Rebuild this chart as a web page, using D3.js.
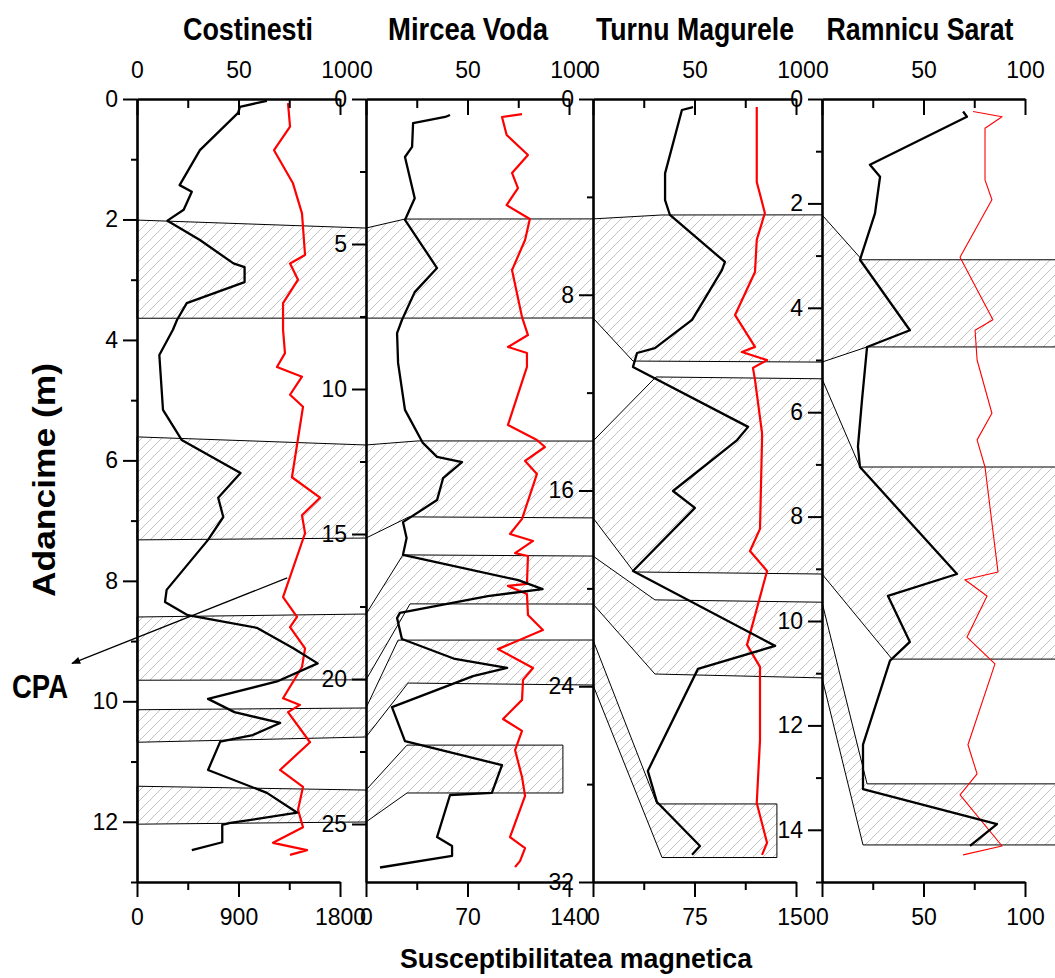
<!DOCTYPE html>
<html><head><meta charset="utf-8">
<script src="https://cdn.jsdelivr.net/npm/d3@7"></script>
<style>
body{margin:0;background:#fff}
svg{display:block}
text{font-family:"Liberation Sans",Arial,sans-serif}
</style>
</head><body>
<svg id="c" width="1055" height="978"></svg>
<script>
// ---------- data ----------
const panelNames = ["Costinesti", "Mircea Voda", "Turnu Magurele", "Ramnicu Sarat"];
const depthMax = [13, 27, 32, 15];
const depthMajor = [[0,2,4,6,8,10,12],[0,5,10,15,20,25],[0,8,16,24,32],[0,2,4,6,8,10,12,14]];
const depthMinorStep = [1, 2.5, 4, 1];
const topMajor = [0, 50, 100];
const topMinor = [25, 75];
const bottomMax = [1800, 140, 150, 100];
const bottomMajor = [[0,900,1800],[0,70,140],[0,75,150],[0,50,100]];
const bottomMinor = [[450,1350],[35,105],[37.5,112.5],[25,75]];
const xTitle = "Susceptibilitatea magnetica";
const yTitle = "Adancime (m)";
const cpaLabel = "CPA";

// black curves: [value on top axis, depth]
const costinestiBlack = [[64,0.03],[50.7,0.13],[49.8,0.23],[31,0.85],[21,1.43],[27,1.54],[23,1.84],[15,2.02],[31,2.34],[47.5,2.73],[53,2.79],[53,3.04],[24.5,3.39],[19.7,3.67],[17.7,3.83],[11,4.25],[12.8,5.16],[22,5.66],[51,6.21],[40,6.62],[42.5,6.94],[35,7.32],[14.6,8.15],[13.8,8.35],[25,8.57],[59,8.78],[77,9.12],[89,9.37],[69,9.67],[35,9.96],[48,10.18],[70.5,10.36],[57,10.56],[41,10.67],[35,11.14],[64,11.52],[79,11.85],[46,12.02],[42,12.05],[42,12.34],[27,12.47]];
const mirceaBlack = [[41.4,0.55],[39,0.62],[23.2,0.83],[22.7,1.65],[19.2,2.0],[24,3.42],[19.2,4.17],[35,5.83],[24,6.66],[17.7,7.62],[15.3,8.07],[15.8,9.1],[19.2,10.72],[28,11.86],[35,12.34],[47.3,12.52],[38,13.07],[35,13.83],[18.2,14.59],[20,15.14],[18.2,15.72],[75,16.59],[87,16.9],[60,17.14],[16.7,17.72],[15.3,17.9],[17.7,18.62],[43.8,19.31],[69.5,19.62],[52.7,19.9],[12.8,20.97],[19.2,22.14],[67,22.97],[62,23.93],[41.4,24.0],[35,25.45],[42.4,25.76],[42.4,26.1],[6.9,26.5]];
const turnuBlack = [[49.3,0.33],[43.8,0.45],[35.5,3.04],[35.5,4.13],[37.9,4.74],[65,6.66],[63.5,6.99],[48.8,9.03],[30.5,10.18],[21.7,10.38],[19.7,10.95],[76.4,13.4],[71,13.94],[39.4,16.02],[50.2,16.71],[19.7,19.29],[89.7,22.35],[51.7,23.29],[27,27.46],[31.5,28.73],[52.7,30.53],[48.8,30.89]];
const ramnicuBlack = [[69.5,0.24],[71.4,0.34],[23.6,1.26],[28.6,1.49],[26.1,2.19],[18.7,3.08],[43.3,4.43],[22.2,4.75],[19.7,5.77],[17.7,6.66],[18.7,7.05],[66.5,9.1],[32.5,9.52],[43.3,10.4],[33.5,10.76],[20.2,12.37],[20.2,13.22],[86.2,13.89],[72.9,14.31]];

// red curves: [value on bottom axis, depth]
const costinestiRed = [[1339,0.07],[1357,0.46],[1215,0.85],[1383,1.4],[1463,1.9],[1490,2.59],[1357,2.73],[1428,3.0],[1295,3.39],[1295,3.83],[1312,4.22],[1241,4.45],[1463,4.61],[1357,4.91],[1472,5.11],[1374,6.28],[1623,6.62],[1463,6.91],[1490,7.21],[1295,8.27],[1419,8.6],[1357,8.77],[1490,9.12],[1463,9.43],[1295,9.95],[1445,10.06],[1339,10.18],[1534,10.68],[1268,11.14],[1472,11.42],[1428,11.8],[1472,12.09],[1206,12.35],[1508,12.47],[1357,12.55]];
const mirceaRed = [[107.6,0.52],[93.8,0.62],[97,1.24],[111.7,1.93],[100.7,2.55],[104.8,3.07],[97,3.66],[113,4.14],[109.7,4.86],[100.7,5.9],[107.6,7.52],[111.7,8.14],[97.9,8.55],[111,8.76],[111,9.24],[97.9,11.24],[117.9,11.76],[123.4,12.0],[109.7,12.48],[117.9,12.93],[107.6,14.48],[99.3,15.0],[115.2,15.24],[102.8,15.66],[111.7,15.76],[111,16.72],[97.9,16.79],[111,17.07],[111.7,17.79],[122,18.31],[91,18.97],[115.2,19.62],[108.3,20.03],[107.6,20.72],[94.5,21.38],[107.6,21.79],[102.8,22.45],[107.6,23.38],[109.7,24.03],[99.3,25.45],[109.7,25.83],[106.2,26.28],[102.8,26.48]];
const turnuRed = [[121,0.33],[121,3.39],[127,4.66],[121,5.76],[119.7,7.07],[105,8.83],[119.7,10.13],[110,10.34],[128.6,10.67],[118.2,10.99],[119.7,11.48],[124.9,13.65],[124.9,13.94],[123.4,17.57],[116,18.47],[128.6,19.29],[113.8,22.31],[123.4,23.21],[123.4,26.2],[121,28.77],[128.6,30.4],[124.9,30.89]];
const ramnicuRed = [[74.4,0.24],[88.7,0.34],[80.3,0.56],[80.3,1.55],[83.7,1.93],[68,3.03],[84.2,4.23],[75.4,4.43],[76.4,5.0],[83.7,6.02],[76.4,6.53],[80.3,7.05],[86.7,9.06],[70.4,9.21],[81.3,9.52],[71.4,10.31],[85.2,10.82],[71.9,12.37],[76.4,12.93],[68,13.33],[88.7,14.31],[69.5,14.48]];

// correlation bands: vertices [panel, value on panel top axis, depth in that panel]
const band1 = [[0,0,2.01],[1,0,4.45],[1,19.2,4.14],[2,0,4.9],[2,34,4.74],[3,0,2.22],[3,19.7,3.08],[3,117,3.08],[3,117,4.75],[3,22.2,4.75],[3,0,5.04],[2,19.7,10.71],[2,0,8.95],[0,0,3.64]];
const band2 = [[0,0,5.61],[1,0,11.93],[1,25.6,11.79],[2,0,13.98],[2,31,11.36],[3,0,5.36],[3,18.7,7.05],[3,117,7.05],[3,117,10.73],[3,34.5,10.73],[3,0,9.1],[2,20.2,19.33],[2,0,17.12],[1,21.2,14.41],[1,0,15.14],[0,0,7.32]];
const band3 = [[0,0,8.6],[1,0,17.76],[1,18.2,15.72],[2,0,18.68],[2,30.5,20.47],[3,0,9.64],[3,22.2,13.12],[3,117,13.12],[3,117,14.29],[3,20.2,14.29],[3,0,11.09],[2,30.5,23.5],[2,0,20.64],[1,21.7,17.41],[1,0,20.03],[0,0,9.65]];
const band4 = [[0,0,10.14],[1,0,21.0],[1,15.8,18.66],[2,0,22.11],[2,31.5,28.81],[2,90.6,28.81],[2,90.6,31.0],[2,34,31.0],[2,0,23.95],[1,20.7,20.14],[1,0,22.0],[0,0,10.68]];
const band5 = [[0,0,11.41],[1,0,23.83],[1,20.2,22.28],[1,97,22.28],[1,97,23.93],[1,20.2,23.93],[1,0,24.93],[0,0,12.04]];

// CPA arrow in Costinesti coordinates: [value on top axis, depth]
const cpaArrow = [[74,7.95],[-32,9.37]];

const blackSeries = [costinestiBlack, mirceaBlack, turnuBlack, ramnicuBlack];
const redSeries = [costinestiRed, mirceaRed, turnuRed, ramnicuRed];
const bands = [band1, band2, band3, band4, band5];

// ---------- layout ----------
const svg = d3.select("#c");
const L = [137, 366, 593, 822], W = 203, T = 99, B = 882;
const FONT = '"Liberation Sans", Arial, sans-serif';
const xTop = L.map(l => d3.scaleLinear([0, 100], [l, l + W]));
const xBot = L.map((l, i) => d3.scaleLinear([0, bottomMax[i]], [l, l + W]));
const yS = depthMax.map(m => d3.scaleLinear([0, m], [T, B]));

const defs = svg.append("defs");
const pat = defs.append("pattern").attr("id", "hatch").attr("patternUnits", "userSpaceOnUse")
  .attr("width", 10).attr("height", 10);
pat.append("path").attr("d", "M-2,2 L2,-2 M0,10 L10,0 M8,12 L12,8")
  .attr("stroke", "#c2c2c2").attr("stroke-width", 1);
const mk = defs.append("marker").attr("id", "arr").attr("viewBox", "0 0 10 10")
  .attr("refX", 9).attr("refY", 5).attr("markerWidth", 12).attr("markerHeight", 9)
  .attr("markerUnits", "userSpaceOnUse").attr("orient", "auto");
mk.append("path").attr("d", "M0,1 L10,5 L0,9 Z").attr("fill", "#000");

// bands
svg.append("g").selectAll("path").data(bands).join("path")
  .attr("d", b => d3.line()(b.map(([p, v, d]) => [xTop[p](v), yS[p](d)])) + "Z")
  .attr("fill", "url(#hatch)").attr("stroke", "#000").attr("stroke-width", 1);

// curves
for (let i = 0; i < 4; i++) {
  svg.append("path").datum(redSeries[i])
    .attr("d", d3.line().x(d => xBot[i](d[0])).y(d => yS[i](d[1])))
    .attr("fill", "none").attr("stroke", "#ff0000")
    .attr("stroke-width", i === 3 ? 1.1 : 2.2).attr("stroke-linejoin", "round");
  svg.append("path").datum(blackSeries[i])
    .attr("d", d3.line().x(d => xTop[i](d[0])).y(d => yS[i](d[1])))
    .attr("fill", "none").attr("stroke", "#000").attr("stroke-width", 2.3)
    .attr("stroke-linejoin", "round");
}

// axes
function styleAxis(g, lw) {
  g.attr("font-family", FONT).attr("font-size", 23);
  g.select(".domain").attr("stroke-width", 2.6).attr("stroke", "#000");
  g.selectAll(".tick line").attr("stroke-width", lw).attr("stroke", "#000");
  g.selectAll(".tick text").attr("fill", "#000");
}
const fmt = d3.format("d");
for (let i = 0; i < 4; i++) {
  // top
  svg.append("g").attr("transform", `translate(0,${T})`)
    .call(d3.axisTop(xTop[i]).tickValues(topMinor).tickSize(-9).tickFormat(""))
    .call(g => { g.select(".domain").remove(); styleAxis(g, 2); });
  svg.append("g").attr("transform", `translate(0,${T})`)
    .call(d3.axisTop(xTop[i]).tickValues(topMajor).tickSize(-16).tickSizeOuter(0).tickPadding(21).tickFormat(fmt))
    .call(g => styleAxis(g, 2));
  // bottom
  svg.append("g").attr("transform", `translate(0,${B})`)
    .call(d3.axisBottom(xBot[i]).tickValues(bottomMinor[i]).tickSize(8).tickFormat(""))
    .call(g => { g.select(".domain").remove(); styleAxis(g, 2); });
  svg.append("g").attr("transform", `translate(0,${B})`)
    .call(d3.axisBottom(xBot[i]).tickValues(bottomMajor[i]).tickSize(15).tickSizeOuter(0).tickPadding(12).tickFormat(fmt))
    .call(g => styleAxis(g, 2));
  // left
  const minors = d3.range(0, depthMax[i] + 1e-9, depthMinorStep[i]).filter(v => !depthMajor[i].includes(v));
  svg.append("g").attr("transform", `translate(${L[i]},0)`)
    .call(d3.axisLeft(yS[i]).tickValues(minors).tickSize(6).tickFormat(""))
    .call(g => { g.select(".domain").remove(); styleAxis(g, 2); });
  svg.append("g").attr("transform", `translate(${L[i]},0)`)
    .call(d3.axisLeft(yS[i]).tickValues(depthMajor[i]).tickSize(14).tickSizeOuter(0).tickPadding(5).tickFormat(fmt))
    .call(g => styleAxis(g, 2));
}

// titles
const titleLen = [130, 160, 198, 187];
const titleCx = [248, 468, 695, 920];
svg.append("g").selectAll("text").data(panelNames).join("text")
  .attr("x", (d, i) => titleCx[i]).attr("y", 40).attr("text-anchor", "middle")
  .attr("font-family", FONT).attr("font-weight", "bold").attr("font-size", 32)
  .attr("textLength", (d, i) => titleLen[i]).attr("lengthAdjust", "spacingAndGlyphs")
  .text(d => d);

svg.append("text").attr("x", 576).attr("y", 968).attr("text-anchor", "middle")
  .attr("font-family", FONT).attr("font-weight", "bold").attr("font-size", 28)
  .attr("textLength", 352).attr("lengthAdjust", "spacingAndGlyphs").text(xTitle);

svg.append("text").attr("transform", "translate(55,480) rotate(-90)").attr("text-anchor", "middle")
  .attr("font-family", FONT).attr("font-weight", "bold").attr("font-size", 32)
  .attr("textLength", 234).attr("lengthAdjust", "spacingAndGlyphs").text(yTitle);

// CPA annotation
svg.append("line")
  .attr("x1", xTop[0](cpaArrow[0][0])).attr("y1", yS[0](cpaArrow[0][1]))
  .attr("x2", xTop[0](cpaArrow[1][0])).attr("y2", yS[0](cpaArrow[1][1]))
  .attr("stroke", "#000").attr("stroke-width", 1.2).attr("marker-end", "url(#arr)");
svg.append("text").attr("x", 12).attr("y", 698)
  .attr("font-family", FONT).attr("font-weight", "bold").attr("font-size", 34)
  .attr("textLength", 56).attr("lengthAdjust", "spacingAndGlyphs").text(cpaLabel);
</script>
</body></html>
